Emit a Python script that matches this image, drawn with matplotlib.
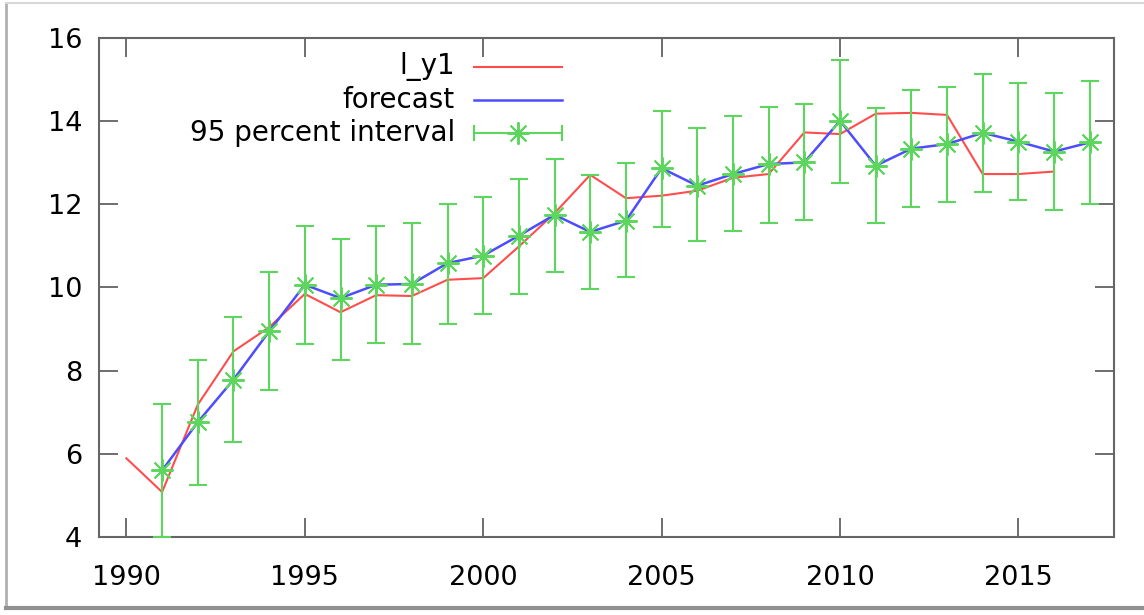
import numpy as np
import matplotlib
matplotlib.use("Agg")
import matplotlib.pyplot as plt
from matplotlib.lines import Line2D

# datos
anios_obs = list(range(1990, 2017))
l_y1 = [5.89, 5.08, 7.18, 8.46, 9.04, 9.84, 9.40, 9.81, 9.79, 10.18, 10.22, 10.98,
        11.78, 12.70, 12.14, 12.20, 12.32, 12.63, 12.72, 13.72, 13.68, 14.17,
        14.19, 14.14, 12.72, 12.72, 12.78]

anios_pron = list(range(1991, 2018))
forecast = [5.60, 6.76, 7.78, 8.94, 10.06, 9.74, 10.06, 10.08, 10.58, 10.76, 11.24,
            11.74, 11.33, 11.60, 12.86, 12.44, 12.72, 12.96, 13.00, 14.00, 12.92,
            13.33, 13.44, 13.71, 13.50, 13.26, 13.48]
lim_inf = [4.00, 5.26, 6.28, 7.54, 8.63, 8.26, 8.65, 8.63, 9.12, 9.36, 9.85,
           10.36, 9.96, 10.24, 11.45, 11.10, 11.36, 11.54, 11.62, 12.51, 11.54,
           11.94, 12.04, 12.30, 12.09, 11.85, 12.00]
lim_sup = [7.20, 8.26, 9.28, 10.36, 11.48, 11.16, 11.48, 11.54, 12.00, 12.16, 12.60,
           13.08, 12.70, 12.99, 14.24, 13.83, 14.11, 14.32, 14.40, 15.46, 14.30,
           14.74, 14.82, 15.12, 14.90, 14.66, 14.96]

rojo = "#ff4d4d"
azul = "#4d4dff"
verde = "#5cd65c"
estrella = (8, 2, 0)  # asterisco estilo gnuplot

plt.rcParams['font.family'] = ['DejaVu Sans']

fig = plt.figure(figsize=(11.44, 6.15), dpi=100)
ax = fig.add_axes([0.0865, 0.1268, 0.8873, 0.8122])

# marco tipo captura de pantalla (sin borde derecho)
fig.lines.append(Line2D([0.005, 0.005], [0.012, 0.995], transform=fig.transFigure,
                        color="#b0b0b0", linewidth=2))
fig.lines.append(Line2D([0.005, 1.0], [0.995, 0.995], transform=fig.transFigure,
                        color="#d8d8d8", linewidth=1.5))
fig.lines.append(Line2D([0.005, 1.0], [0.012, 0.012], transform=fig.transFigure,
                        color="#909090", linewidth=3))

ax.plot(anios_obs, l_y1, color=rojo, linewidth=1.5, zorder=2)
ax.plot(anios_pron, forecast, color=azul, linewidth=1.8, zorder=3)

f = np.array(forecast)
err = [f - np.array(lim_inf), np.array(lim_sup) - f]
ax.errorbar(anios_pron, forecast, yerr=err, fmt='none', ecolor=verde,
            elinewidth=1.5, capsize=6.5, capthick=1.5, zorder=4)
ax.plot(anios_pron, forecast, linestyle='none', marker=estrella, markersize=16,
        markeredgecolor=verde, markeredgewidth=1.4, color=verde, zorder=5)

ax.set_xlim(1989.23, 2017.68)
ax.set_ylim(4, 16)
ax.set_xticks([1990, 1995, 2000, 2005, 2010, 2015])
ax.set_yticks([4, 6, 8, 10, 12, 14, 16])

ax.tick_params(direction='in', length=14, width=1.2, color="#555555",
               labelsize=19.5, top=True, right=True, pad=12)
ax.tick_params(axis='x', pad=20)
for s in ax.spines.values():
    s.set_color("#666666")
    s.set_linewidth(1.5)

# leyenda manual
filas = [0.941, 0.875, 0.809]
x_txt, x0, x1 = 0.3507, 0.3699, 0.4562
ax.text(x_txt, filas[0], "l_y1", transform=ax.transAxes, ha='right', va='center', fontsize=20)
ax.text(x_txt, filas[1], "forecast", transform=ax.transAxes, ha='right', va='center', fontsize=20)
ax.text(x_txt, filas[2], "95 percent interval", transform=ax.transAxes, ha='right', va='center', fontsize=20)
ax.plot([x0, x1], [filas[0]] * 2, color=rojo, linewidth=1.5, transform=ax.transAxes)
ax.plot([x0, x1], [filas[1]] * 2, color=azul, linewidth=1.8, transform=ax.transAxes)
ax.plot([x0, x1], [filas[2]] * 2, color=verde, linewidth=1.5, transform=ax.transAxes)
for xc in (x0, x1):
    ax.plot([xc, xc], [filas[2] - 0.014, filas[2] + 0.014], color=verde, linewidth=1.5,
            transform=ax.transAxes)
ax.plot([(x0 + x1) / 2], [filas[2]], marker=estrella, markersize=16, markeredgecolor=verde,
        markeredgewidth=1.4, transform=ax.transAxes)

fig.savefig("out.png", dpi=100)
